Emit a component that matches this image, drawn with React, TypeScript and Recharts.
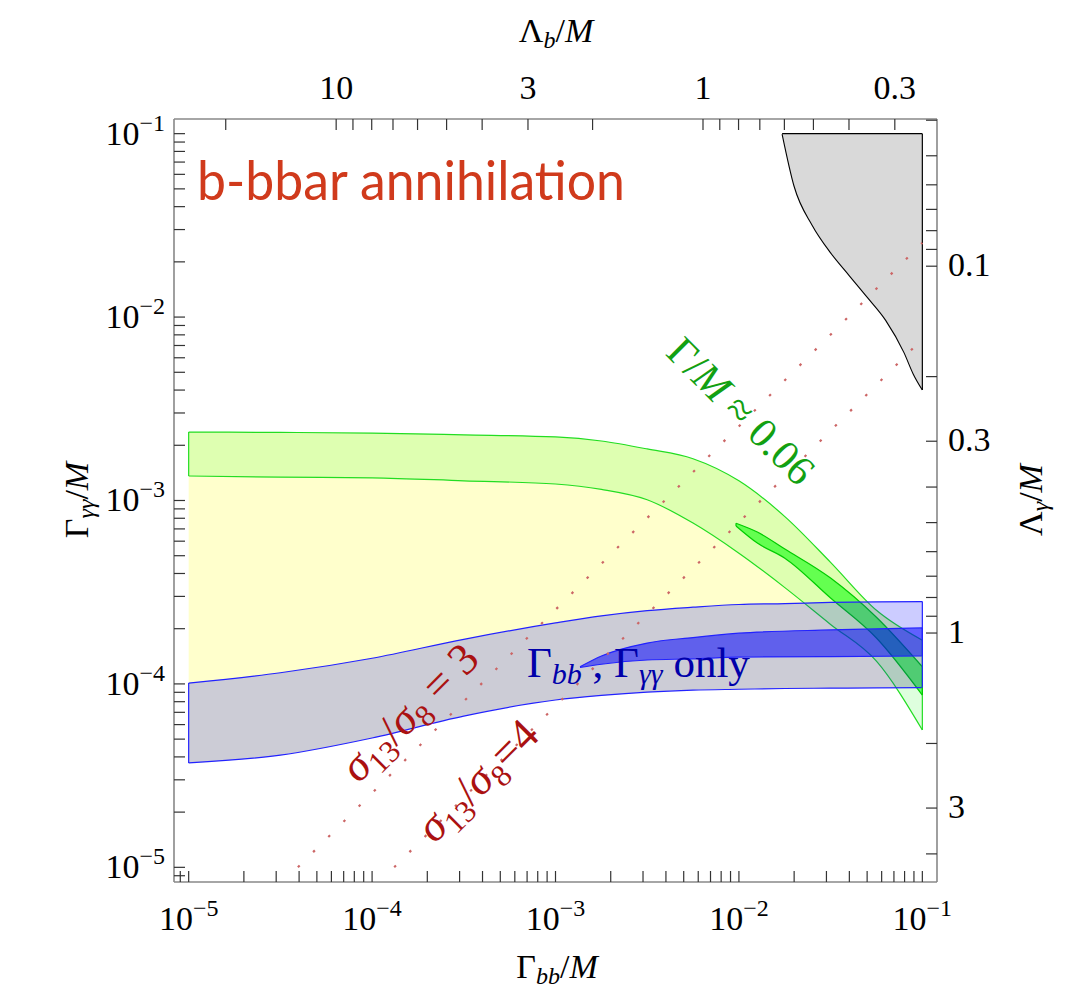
import React from "react";
import { ComposedChart, Area, Line, XAxis, YAxis, ReferenceLine } from "recharts";

const W = 1056;
const H = 981;
const PLOT = { left: 166, top: 111, size: 763 };
const DOMAIN: [number, number] = [8.318e-6, 0.1202];
const SERIF = '"Liberation Serif", "Times New Roman", serif';

// Γbb/M sample points shared by the wide bands
const bandX = [1e-5, 3.16e-5, 1e-4, 3.16e-4, 1e-3, 1.78e-3, 3.16e-3, 5.62e-3, 1e-2, 1.78e-2, 3.16e-2, 5.62e-2, 0.1];
const greenLow = [1.36e-3, 1.34e-3, 1.33e-3, 1.28e-3, 1.23e-3, 1.15e-3, 1.01e-3, 7.53e-4, 5.16e-4, 3.35e-4, 2.11e-4, 1.33e-4, 5.61e-5];
const greenHigh = [2.36e-3, 2.35e-3, 2.33e-3, 2.28e-3, 2.22e-3, 2.11e-3, 1.91e-3, 1.69e-3, 1.28e-3, 8.17e-4, 4.6e-4, 2.52e-4, 1.73e-4];
const blueLow = [3.71e-5, 4.09e-5, 5.07e-5, 6.68e-5, 8.17e-5, 8.65e-5, 9.02e-5, 9.25e-5, 9.35e-5, 9.44e-5, 9.48e-5, 9.52e-5, 9.55e-5];
const blueHigh = [1.01e-4, 1.15e-4, 1.38e-4, 1.75e-4, 2.15e-4, 2.35e-4, 2.51e-4, 2.62e-4, 2.71e-4, 2.74e-4, 2.78e-4, 2.8e-4, 2.81e-4];

// Γ/M ≈ 0.06 sliver
const dGreenX = [9.64e-3, 1.26e-2, 1.78e-2, 3.16e-2, 5.62e-2, 0.1];
const dGreenLow = [7.26e-4, 5.86e-4, 4.85e-4, 2.94e-4, 1.78e-4, 8.69e-5];
const dGreenHigh = [7.52e-4, 6.73e-4, 5.44e-4, 3.78e-4, 2.31e-4, 1.24e-4];

// Γbb, Γγγ only sliver
const dBlueX = [1.36e-3, 1.78e-3, 3.16e-3, 5.62e-3, 1e-2, 3.16e-2, 0.1];
const dBlueLow = [1.23e-4, 1.28e-4, 1.35e-4, 1.37e-4, 1.4e-4, 1.41e-4, 1.42e-4];
const dBlueHigh = [1.24e-4, 1.42e-4, 1.67e-4, 1.79e-4, 1.89e-4, 1.97e-4, 2.02e-4];

// excluded corner (grey)
const greyX = [1.72e-2, 2.0e-2, 2.51e-2, 3.16e-2, 3.98e-2, 5.01e-2, 6.31e-2, 7.94e-2, 8.91e-2, 0.1];
const greyLow = [9.93e-2, 5.15e-2, 3.16e-2, 2.24e-2, 1.69e-2, 1.28e-2, 9.6e-3, 6.4e-3, 4.9e-3, 4.0e-3];
const greyHigh = [0.1, 0.1, 0.1, 0.1, 0.1, 0.1, 0.1, 0.1, 0.1, 0.1];

// σ13/σ8 contours, end points
const ratio3X = [3.94e-5, 0.1];
const ratio3Y = [1e-5, 2.54e-2];
const ratio4X = [1.32e-4, 0.1];
const ratio4Y = [1e-5, 7.6e-3];

// axis tick labels
const gammaMajor = [1e-5, 1e-4, 1e-3, 1e-2, 1e-1];
const lambdaBMajor = [10, 3, 1, 0.3];
const lambdaBMinor = [20, 9, 8, 7, 6, 5, 4, 2, 0.9, 0.8, 0.7, 0.6, 0.5, 0.4];
const lambdaGMajor = [0.1, 0.3, 1, 3];
const lambdaGMinor = [0.04, 0.05, 0.06, 0.07, 0.08, 0.09, 0.2, 0.4, 0.5, 0.6, 0.7, 0.8, 0.9, 2, 4, 5];
const LB0 = 6.37e-3; // Γbb/M where Λb/M = 1
const LG0 = 1.894e-4; // Γγγ/M where Λγ/M = 1

const inDomain = (v: number) => v >= DOMAIN[0] && v <= DOMAIN[1];
const gammaTicks = [-6, -5, -4, -3, -2, -1]
  .flatMap((d) => [1, 2, 3, 4, 5, 6, 7, 8, 9].map((m) => m * Math.pow(10, d)))
  .filter(inDomain);
const topTicks = [...lambdaBMajor, ...lambdaBMinor]
  .map((l) => ({ g: LB0 / (l * l), label: lambdaBMajor.includes(l) ? String(l) : "" }))
  .filter((t) => inDomain(t.g));
const rightTicks = [...lambdaGMajor, ...lambdaGMinor]
  .map((l) => ({ g: LG0 / (l * l), label: lambdaGMajor.includes(l) ? String(l) : "" }))
  .filter((t) => inDomain(t.g));

type Row = { x: number; [k: string]: any };
function buildRows() {
  const map = new Map<number, Row>();
  const put = (xs: number[], key: string, f: (i: number) => any) => {
    xs.forEach((x, i) => {
      const r = map.get(x) || { x };
      r[key] = f(i);
      map.set(x, r);
    });
  };
  put(bandX, "yellow", (i) => [blueLow[i], greenHigh[i]]);
  put(bandX, "green", (i) => [greenLow[i], greenHigh[i]]);
  put(bandX, "blue", (i) => [blueLow[i], blueHigh[i]]);
  put(dGreenX, "dgreen", (i) => [dGreenLow[i], dGreenHigh[i]]);
  put(dBlueX, "dblue", (i) => [dBlueLow[i], dBlueHigh[i]]);
  put(greyX, "grey", (i) => [greyLow[i], greyHigh[i]]);
  put(ratio3X, "r3", (i) => ratio3Y[i]);
  put(ratio4X, "r4", (i) => ratio4Y[i]);
  return [...map.values()].sort((a, b) => a.x - b.x);
}
const rows = buildRows();

const TICK = 11;
const LABEL = 34;
const SUP = 24;
const isMajor = (v: number) => gammaMajor.some((m) => Math.abs(m - v) / m < 1e-6);
const expo = (v: number) => "\u2212" + Math.round(-Math.log10(v));

function BottomTick(p: any) {
  const v = p.payload.value;
  return (
    <g>
      <line x1={p.x} x2={p.x} y1={p.y} y2={p.y - TICK} stroke="#333" strokeWidth={1.2} />
      {isMajor(v) && (
        <text x={p.x} y={p.y + 48} textAnchor="middle" fontFamily={SERIF} fontSize={LABEL} fill="#000">
          10<tspan dy={-14} fontSize={SUP}>{expo(v)}</tspan>
        </text>
      )}
    </g>
  );
}

function LeftTick(p: any) {
  const v = p.payload.value;
  return (
    <g>
      <line x1={p.x} x2={p.x + TICK} y1={p.y} y2={p.y} stroke="#333" strokeWidth={1.2} />
      {isMajor(v) && (
        <text x={p.x - 9} y={p.y + 11} textAnchor="end" fontFamily={SERIF} fontSize={LABEL} fill="#000">
          10<tspan dy={-14} fontSize={SUP}>{expo(v)}</tspan>
        </text>
      )}
    </g>
  );
}

const findLabel = (list: { g: number; label: string }[], v: number) =>
  (list.find((t) => Math.abs(t.g - v) / v < 1e-6) || { label: "" }).label;

function TopTick(p: any) {
  const label = findLabel(topTicks, p.payload.value);
  return (
    <g>
      <line x1={p.x} x2={p.x} y1={p.y} y2={p.y + TICK} stroke="#333" strokeWidth={1.2} />
      {label && (
        <text x={p.x} y={p.y - 20} textAnchor="middle" fontFamily={SERIF} fontSize={LABEL} fill="#000">
          {label}
        </text>
      )}
    </g>
  );
}

function RightTick(p: any) {
  const label = findLabel(rightTicks, p.payload.value);
  return (
    <g>
      <line x1={p.x} x2={p.x - TICK} y1={p.y} y2={p.y} stroke="#333" strokeWidth={1.2} />
      {label && (
        <text x={p.x + 11} y={p.y + 10} textAnchor="start" fontFamily={SERIF} fontSize={LABEL} fill="#000">
          {label}
        </text>
      )}
    </g>
  );
}

const last = (a: number[]) => a[a.length - 1];
const edges = [
  { x: bandX[0], y: [greenLow[0], greenHigh[0]], c: "#22dd22" },
  { x: last(bandX), y: [last(greenLow), last(greenHigh)], c: "#22dd22" },
  { x: dGreenX[0], y: [dGreenLow[0], dGreenHigh[0]], c: "#00cc00" },
  { x: last(dGreenX), y: [last(dGreenLow), last(dGreenHigh)], c: "#00cc00" },
  { x: bandX[0], y: [blueLow[0], blueHigh[0]], c: "#2222ff" },
  { x: last(bandX), y: [last(blueLow), last(blueHigh)], c: "#2222ff" },
  { x: last(dBlueX), y: [last(dBlueLow), last(dBlueHigh)], c: "#2222ff" },
  { x: last(greyX), y: [last(greyLow), last(greyHigh)], c: "#000" },
];

const axisLine = { stroke: "#888", strokeWidth: 1.6 };

export default function App() {
  return (
    <div style={{ position: "relative", width: W, height: H, background: "#fff" }}>
      <ComposedChart
        width={W}
        height={H}
        data={rows}
        margin={{
          top: PLOT.top - 1,
          left: PLOT.left - 1,
          right: W - PLOT.left - PLOT.size - 1,
          bottom: H - PLOT.top - PLOT.size - 1,
        }}
      >
        <XAxis dataKey="x" type="number" scale="log" domain={DOMAIN} allowDataOverflow ticks={gammaTicks}
          interval={0} height={1} tickSize={0} tickMargin={0} tickLine={false} axisLine={axisLine} tick={(p: any) => <BottomTick {...p} />} />
        <XAxis xAxisId="top" orientation="top" dataKey="x" type="number" scale="log" domain={DOMAIN} allowDataOverflow
          ticks={topTicks.map((t) => t.g)} interval={0} height={1} tickSize={0} tickMargin={0} tickLine={false}
          axisLine={axisLine} tick={(p: any) => <TopTick {...p} />} />
        <YAxis type="number" scale="log" domain={DOMAIN} allowDataOverflow ticks={gammaTicks} interval={0} width={1}
          tickSize={0} tickMargin={0} tickLine={false} axisLine={axisLine} tick={(p: any) => <LeftTick {...p} />} />
        <YAxis yAxisId="right" orientation="right" type="number" scale="log" domain={DOMAIN} allowDataOverflow
          ticks={rightTicks.map((t) => t.g)} interval={0} width={1} tickSize={0} tickMargin={0} tickLine={false}
          axisLine={axisLine} tick={(p: any) => <RightTick {...p} />} />

        <Area dataKey="yellow" type="monotone" fill="#ffffcc" fillOpacity={1} stroke="none" connectNulls isAnimationActive={false} />
        <Area dataKey="green" type="monotone" fill="#00ff00" fillOpacity={0.13} stroke="#22dd22" strokeWidth={1.2} connectNulls isAnimationActive={false} />
        <Area dataKey="dgreen" type="monotone" fill="#00ff00" fillOpacity={0.55} stroke="#00cc00" strokeWidth={1.2} connectNulls isAnimationActive={false} />
        <Area dataKey="blue" type="monotone" fill="#0000ff" fillOpacity={0.2} stroke="#2222ff" strokeWidth={1.2} connectNulls isAnimationActive={false} />
        <Area dataKey="dblue" type="monotone" fill="#0000ff" fillOpacity={0.53} stroke="#2222ff" strokeWidth={1.2} connectNulls isAnimationActive={false} />
        <Area dataKey="grey" type="monotone" fill="#d9d9d9" fillOpacity={1} stroke="#000" strokeWidth={1.1} connectNulls isAnimationActive={false} />
        {edges.map((e, i) => (
          <ReferenceLine key={i} segment={[{ x: e.x, y: e.y[0] }, { x: e.x, y: e.y[1] }]} stroke={e.c} strokeWidth={1.2} ifOverflow="visible" />
        ))}
        <Line dataKey="r3" type="linear" stroke="#cc6666" strokeWidth={2.2} strokeDasharray="2.5 19" dot={false} connectNulls isAnimationActive={false} />
        <Line dataKey="r4" type="linear" stroke="#cc6666" strokeWidth={2.2} strokeDasharray="2.5 19" dot={false} connectNulls isAnimationActive={false} />
      </ComposedChart>

      <svg width={W} height={H} style={{ position: "absolute", left: 0, top: 0, pointerEvents: "none" }}>
        <text x={189} y={192} fontFamily="Lato, 'Open Sans', sans-serif" fontSize={54} fill="#d03a1c"
          textLength={428} lengthAdjust="spacingAndGlyphs">
          b-bbar annihilation
        </text>

        <g transform="translate(733,403) rotate(45)">
          <text x={0} y={14} textAnchor="middle" fontFamily={SERIF} fontSize={42} fill="#12a012">
            Γ/<tspan fontStyle="italic">M</tspan> ≈ 0.06
          </text>
        </g>
        <g transform="translate(402,705) rotate(-45)">
          <text x={0} y={14} textAnchor="middle" fontFamily={SERIF} fontSize={45} fill="#aa1111">
            <tspan fontStyle="italic">σ</tspan>
            <tspan fontSize={31} dy={9}>13</tspan>
            <tspan dy={-9}>/</tspan>
            <tspan fontStyle="italic">σ</tspan>
            <tspan fontSize={31} dy={9}>8</tspan>
            <tspan dy={-9}> = 3</tspan>
          </text>
        </g>
        <g transform="translate(470,773) rotate(-45)">
          <text x={0} y={14} textAnchor="middle" fontFamily={SERIF} fontSize={45} fill="#aa1111">
            <tspan fontStyle="italic">σ</tspan>
            <tspan fontSize={31} dy={9}>13</tspan>
            <tspan dy={-9}>/</tspan>
            <tspan fontStyle="italic">σ</tspan>
            <tspan fontSize={31} dy={9}>8</tspan>
            <tspan dy={-9}>=4</tspan>
          </text>
        </g>
        <text x={519} y={669} fontFamily={SERIF} fontSize={43} fill="#0000aa">
          Γ<tspan fontStyle="italic" fontSize={30} dy={7}>bb</tspan>
          <tspan dy={-7}> , Γ</tspan>
          <tspan fontStyle="italic" fontSize={30} dy={7}>γγ</tspan>
          <tspan dy={-7}> only</tspan>
        </text>

        <text x={549} y={970} textAnchor="middle" fontFamily={SERIF} fontSize={34} fill="#000">
          Γ<tspan fontStyle="italic" fontSize={24} dy={6}>bb</tspan>
          <tspan dy={-6}>/</tspan>
          <tspan fontStyle="italic">M</tspan>
        </text>
        <text x={548} y={34} textAnchor="middle" fontFamily={SERIF} fontSize={34} fill="#000">
          Λ<tspan fontStyle="italic" fontSize={24} dy={6}>b</tspan>
          <tspan dy={-6}>/</tspan>
          <tspan fontStyle="italic">M</tspan>
        </text>
        <g transform="translate(80,492) rotate(-90)">
          <text x={0} y={0} textAnchor="middle" fontFamily={SERIF} fontSize={34} fill="#000">
            Γ<tspan fontStyle="italic" fontSize={24} dy={6}>γγ</tspan>
            <tspan dy={-6}>/</tspan>
            <tspan fontStyle="italic">M</tspan>
          </text>
        </g>
        <g transform="translate(1034,492) rotate(-90)">
          <text x={0} y={0} textAnchor="middle" fontFamily={SERIF} fontSize={34} fill="#000">
            Λ<tspan fontStyle="italic" fontSize={24} dy={6}>γ</tspan>
            <tspan dy={-6}>/</tspan>
            <tspan fontStyle="italic">M</tspan>
          </text>
        </g>
      </svg>
    </div>
  );
}
